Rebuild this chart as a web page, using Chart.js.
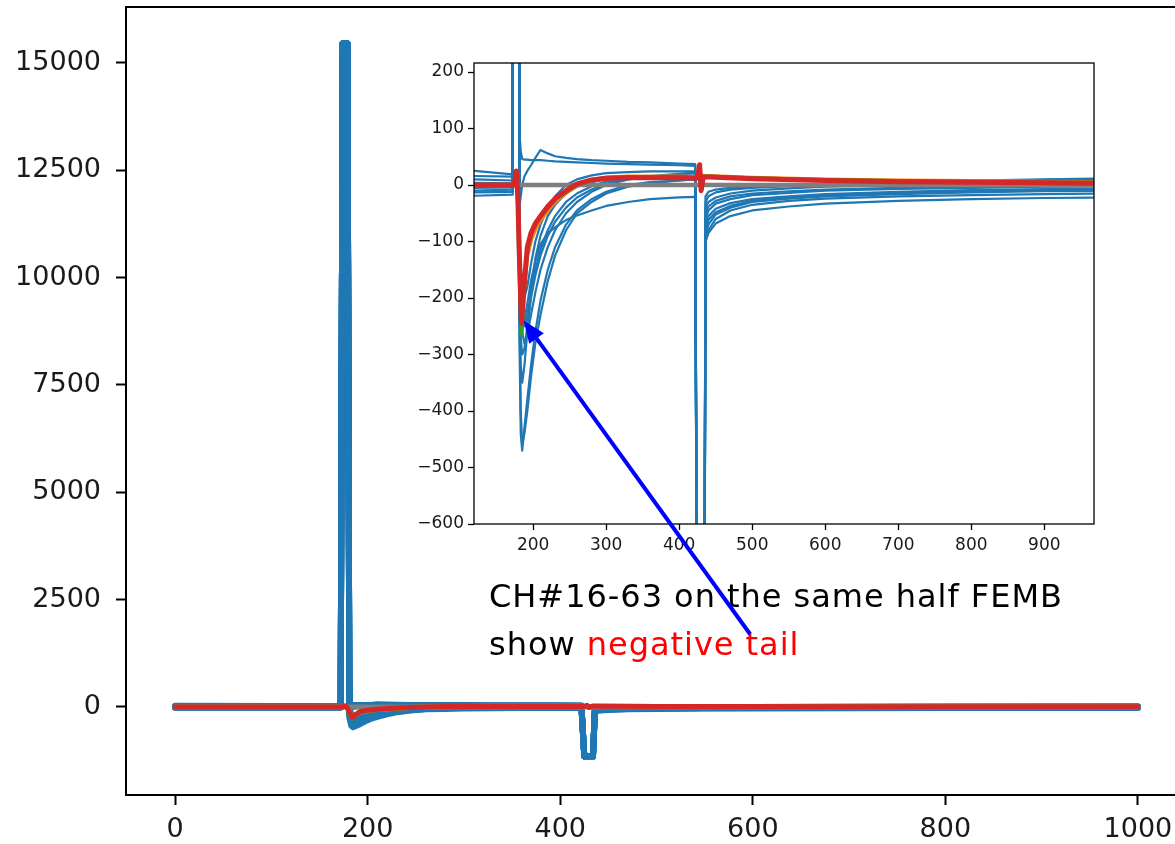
<!DOCTYPE html>
<html>
<head>
<meta charset="utf-8">
<script src="https://cdn.jsdelivr.net/npm/chart.js@4.4.1/dist/chart.umd.min.js"></script>
<style>
  html, body { margin: 0; padding: 0; background: #fff; overflow: hidden; }
  #wrap { position: relative; width: 1175px; height: 844px; }
  #main { position: absolute; left: 0; top: 0; }
  #inset { position: absolute; left: 410px; top: 50px; }
  #arrow { position: absolute; left: 0; top: 0; pointer-events: none; }
  #note {
    position: absolute; left: 489px; top: 572px;
    font-family: "DejaVu Sans", sans-serif; font-size: 32px; line-height: 48px;
    color: #000; white-space: nowrap;
  }
  #note .red { color: #ff0000; }
</style>
</head>
<body>
<div id="wrap">
  <canvas id="main" width="1175" height="844"></canvas>
  <canvas id="inset" width="700" height="505"></canvas>
  <div id="note"><span id="line1">CH#16-63 on the same half FEMB</span><br>show <span class="red">negative tail</span></div>
  <canvas id="arrow" width="1175" height="844"></canvas>
</div>
<script>
// sample index where the pulsed (blue) channels were read
const blueX = [0, 120, 172, 174, 179, 181, 183, 185, 188, 192, 197, 203, 210, 220, 230, 245, 260, 280, 300, 330, 360, 400, 422, 425, 434, 436, 440, 450, 470, 500, 550, 600, 700, 800, 900, 1000];

// pulsed channels (blue)
const blue1  = [2, 2, 0, 15450, 15450, -250, -440, -470, -430, -380, -320, -260, -205, -150, -110, -70, -45, -25, -12, 0, 5, 8, 10, -1150, -1150, -100, -80, -60, -45, -35, -28, -24, -20, -18, -16, -15];
const blue2  = [26, 25, 19, 15450, 15450, -200, -400, -460, -440, -400, -340, -280, -230, -170, -125, -80, -50, -30, -15, -3, 3, 8, 10, -1150, -1150, -90, -70, -52, -40, -30, -24, -20, -16, -13, -11, -10];
const blue3  = [17, 16, 15, 15450, 15450, 97, 60, 46, 45, 45, 44, 44, 44, 43, 42, 41, 40, 39, 38, 37, 36, 35, 34, -1150, -1150, -20, -12, -8, -5, -3, 0, 2, 5, 8, 10, 12];
const blue4  = [-10, -10, -8, 15450, 15450, -40, -20, 0, 15, 25, 35, 48, 62, 56, 51, 48, 46, 44, 43, 41, 40, 38, 37, -1150, -1150, -40, -30, -22, -15, -10, -6, -3, 0, 3, 6, 8];
const blue5  = [-20, -19, -17, 15450, 15450, -150, -220, -250, -240, -210, -170, -135, -105, -85, -75, -62, -54, -45, -37, -30, -25, -22, -21, -1150, -1150, -100, -85, -68, -55, -45, -38, -33, -28, -25, -23, -22];
const blue6  = [-5, -5, -4, 15450, 15450, -150, -270, -300, -290, -250, -200, -160, -125, -90, -65, -40, -22, -8, 2, 10, 14, 18, 22, -1150, -1150, -60, -45, -33, -25, -18, -14, -10, -7, -5, -3, -2];
const blue7  = [5, 4, 3, 15450, 15450, -100, -200, -260, -280, -265, -230, -190, -150, -110, -80, -50, -30, -12, 0, 10, 16, 20, 22, -1150, -1150, -70, -55, -42, -32, -25, -20, -16, -12, -9, -7, -6];
const blue8  = [-14, -13, -12, 15450, 15450, -120, -200, -240, -250, -230, -190, -150, -115, -80, -55, -30, -15, -2, 6, 12, 15, 16, 17, -1150, -1150, -50, -38, -28, -20, -15, -11, -8, -5, -3, -2, -1];
const blue9  = [10, 10, 8, 15450, 15450, -80, -150, -190, -200, -180, -140, -100, -70, -40, -20, 0, 10, 17, 21, 23, 24, 24, 24, -1150, -1150, -30, -20, -13, -8, -5, -2, 0, 3, 6, 9, 11];
const blue10 = [-2, -2, -1, 15450, 15450, -180, -320, -350, -320, -260, -190, -130, -90, -55, -35, -15, -3, 5, 10, 12, 13, 13, 13, -1150, -1150, -80, -62, -48, -37, -28, -22, -18, -14, -11, -9, -8];

// sample index for the channels with negative tail
const tailX = [0, 120, 174, 177, 179, 181, 184, 188, 192, 197, 203, 210, 220, 230, 245, 260, 280, 300, 330, 360, 400, 424, 426, 428, 430, 433, 440, 500, 600, 700, 800, 900, 1000];
const tailRed    = [0, 0, 0, 25, -20, -120, -245, -170, -110, -85, -68, -55, -38, -24, -10, 2, 9, 12, 13, 13, 13, 12, 20, 36, -10, 14, 14, 11, 8, 6, 5, 4, 3];
const tailGreen  = [0, 0, 0, 20, -25, -140, -265, -180, -115, -88, -70, -56, -40, -26, -12, 1, 9, 13, 14, 14, 14, 13, 22, 33, -8, 15, 15, 12, 9, 7, 6, 5, 4];
const tailOrange = [0, 0, 0, 18, -15, -100, -225, -175, -125, -98, -78, -62, -45, -30, -14, -1, 8, 13, 15, 15, 15, 14, 20, 30, -5, 16, 16, 13, 10, 8, 7, 6, 5];

// reference channel (gray)
const grayX = [0, 1000];
const grayY = [0, 0];

// ticks
const mainXTicks = [0, 200, 400, 600, 800, 1000];
const mainYTicks = [0, 2500, 5000, 7500, 10000, 12500, 15000];
const insetXTicks = [200, 300, 400, 500, 600, 700, 800, 900];
const insetYTicks = [-600, -500, -400, -300, -200, -100, 0, 100, 200];

// where the arrow points (inset data coords)
const arrowTip = [187, -240];

const blueSeries = [blue1, blue2, blue3, blue4, blue5, blue6, blue7, blue8, blue9, blue10];

function line(xs, ys, color, width, order) {
  return {
    data: xs.map((x, i) => ({ x: x, y: ys[i] })),
    borderColor: color,
    borderWidth: width,
    pointRadius: 0,
    fill: false,
    tension: 0,
    borderJoinStyle: 'round',
    borderCapStyle: 'round',
    order: order
  };
}

function buildDatasets(w) {
  const sets = [];
  sets.push(line(tailX, tailRed, '#d62728', w.red, 1));
  sets.push(line(grayX, grayY, '#7f7f7f', w.gray, 2));
  sets.push(line(tailX, tailGreen, '#2ca02c', w.other, 3));
  sets.push(line(tailX, tailOrange, '#ff7f0e', w.other, 4));
  blueSeries.forEach((s) => sets.push(line(blueX, s, '#1f77b4', w.blue, 5)));
  return sets;
}

const fmt = (v) => String(v).replace('-', '\u2212');

const frame = {
  id: 'frame',
  afterDraw(chart, args, opts) {
    const a = chart.chartArea;
    const ctx = chart.ctx;
    ctx.save();
    ctx.strokeStyle = '#000';
    ctx.lineWidth = opts.width;
    ctx.strokeRect(a.left, a.top, a.right - a.left + opts.extraRight, a.bottom - a.top);
    ctx.restore();
  }
};

function noPad(s) {
  s.paddingTop = 0; s.paddingBottom = 0; s.paddingLeft = 0; s.paddingRight = 0;
}

function axes(o) {
  return {
    x: {
      type: 'linear',
      min: o.xmin, max: o.xmax,
      afterBuildTicks: (s) => { s.ticks = o.xticks.map((v) => ({ value: v })); },
      afterFit: (s) => { s.height = o.xh; noPad(s); },
      ticks: { font: { family: 'DejaVu Sans', size: o.font }, color: '#1a1a1a', padding: o.xpad, maxRotation: 0, autoSkip: false, callback: fmt },
      grid: { drawOnChartArea: false, drawTicks: true, tickLength: o.tick, tickWidth: o.tickW, tickColor: '#000' },
      border: { display: false }
    },
    y: {
      type: 'linear',
      min: o.ymin, max: o.ymax,
      afterBuildTicks: (s) => { s.ticks = o.yticks.map((v) => ({ value: v })); },
      afterFit: (s) => { s.width = o.yw; noPad(s); },
      ticks: { font: { family: 'DejaVu Sans', size: o.font }, color: '#1a1a1a', padding: o.ypad, autoSkip: false, callback: fmt },
      grid: { drawOnChartArea: false, drawTicks: true, tickLength: o.tick, tickWidth: o.tickW, tickColor: '#000' },
      border: { display: false }
    }
  };
}

const mainChart = new Chart(document.getElementById('main'), {
  type: 'line',
  data: { datasets: buildDatasets({ blue: 6, red: 5, gray: 5, other: 5 }) },
  options: {
    animation: false,
    responsive: false,
    events: [],
    layout: { autoPadding: false, padding: { top: 7, right: 0, left: 0, bottom: 0 } },
    plugins: { legend: { display: false }, tooltip: { enabled: false }, frame: { width: 2, extraRight: 40 } },
    scales: axes({
      xmin: -51, xmax: 1038.5, ymin: -2050, ymax: 16300,
      xticks: mainXTicks, yticks: mainYTicks,
      xh: 49, yw: 126, font: 27, tick: 10, tickW: 2, xpad: 9, ypad: 15
    })
  },
  plugins: [frame]
});

const insetChart = new Chart(document.getElementById('inset'), {
  type: 'line',
  data: { datasets: buildDatasets({ blue: 2.2, red: 5, gray: 4.5, other: 4 }) },
  options: {
    animation: false,
    responsive: false,
    events: [],
    layout: { autoPadding: false, padding: { top: 13, right: 16, left: 0, bottom: 0 } },
    plugins: { legend: { display: false }, tooltip: { enabled: false }, frame: { width: 1.3, extraRight: 0 } },
    scales: axes({
      xmin: 119, xmax: 968, ymin: -600, ymax: 216,
      xticks: insetXTicks, yticks: insetYTicks,
      xh: 31, yw: 64, font: 17, tick: 6, tickW: 1.3, xpad: 5, ypad: 4
    })
  },
  plugins: [frame]
});

// stretch the note so its first line spans the same width as in the slide
(function fitNote() {
  const note = document.getElementById('note');
  const l1 = document.getElementById('line1');
  const target = 574;
  const w = l1.getBoundingClientRect().width;
  const n = l1.textContent.length;
  note.style.letterSpacing = ((target - w) / n).toFixed(2) + 'px';
})();

// annotation arrow from the note to the red minimum
(function drawArrow() {
  const cv = document.getElementById('arrow');
  const ctx = cv.getContext('2d');
  const insetEl = document.getElementById('inset');
  const tx = insetEl.offsetLeft + insetChart.scales.x.getPixelForValue(arrowTip[0]);
  const ty = insetEl.offsetTop + insetChart.scales.y.getPixelForValue(arrowTip[1]);
  const sx = 750, sy = 634;
  const ang = Math.atan2(ty - sy, tx - sx);
  const headL = 22, headW = 9;
  const bx = tx - headL * Math.cos(ang), by = ty - headL * Math.sin(ang);
  ctx.strokeStyle = '#0000ff';
  ctx.fillStyle = '#0000ff';
  ctx.lineWidth = 4;
  ctx.beginPath();
  ctx.moveTo(sx, sy);
  ctx.lineTo(bx, by);
  ctx.stroke();
  ctx.beginPath();
  ctx.moveTo(tx, ty);
  ctx.lineTo(bx + headW * Math.sin(ang), by - headW * Math.cos(ang));
  ctx.lineTo(bx - headW * Math.sin(ang), by + headW * Math.cos(ang));
  ctx.closePath();
  ctx.fill();
})();
</script>
</body>
</html>
